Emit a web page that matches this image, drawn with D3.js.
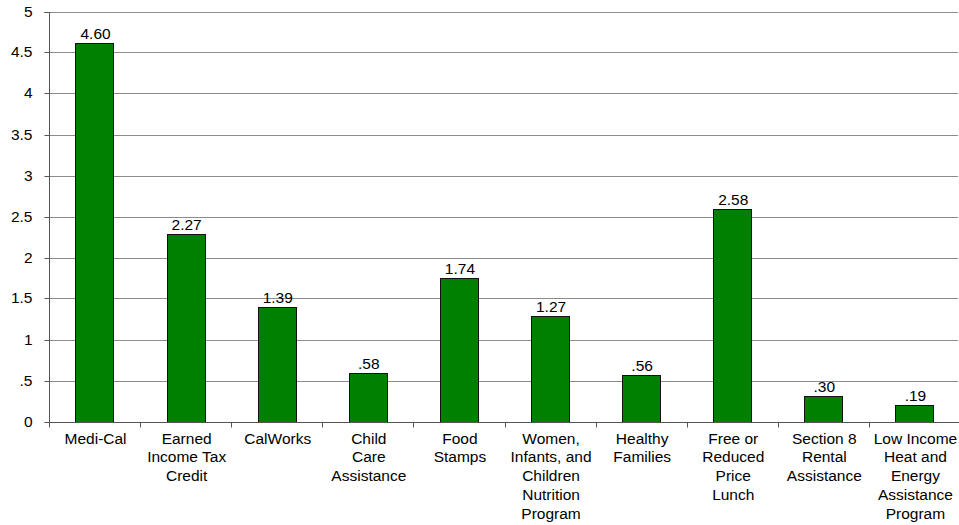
<!DOCTYPE html>
<html><head><meta charset="utf-8">
<script src="https://cdn.jsdelivr.net/npm/d3@7"></script>
<style>body{margin:0;background:#fff}svg{display:block}text{font-family:"Liberation Sans",Arial,sans-serif;fill:#000}</style>
</head><body>
<svg id="c" width="959" height="525"></svg>
<script>
const categories = ["Medi-Cal","Earned Income Tax Credit","CalWorks","Child Care Assistance","Food Stamps","Women, Infants, and Children Nutrition Program","Healthy Families","Free or Reduced Price Lunch","Section 8 Rental Assistance","Low Income Heat and Energy Assistance Program"];
const categoryLines = [["Medi-Cal"],["Earned","Income Tax","Credit"],["CalWorks"],["Child","Care","Assistance"],["Food","Stamps"],["Women,","Infants, and","Children","Nutrition","Program"],["Healthy","Families"],["Free or","Reduced","Price","Lunch"],["Section 8","Rental","Assistance"],["Low Income","Heat and","Energy","Assistance","Program"]];
const values = [4.60,2.27,1.39,0.58,1.74,1.27,0.56,2.58,0.30,0.19];
const yTicks = [0,0.5,1,1.5,2,2.5,3,3.5,4,4.5,5];
const yTickLabels = ["0",".5","1","1.5","2","2.5","3","3.5","4","4.5","5"];

const FS = 15.5;
const svg = d3.select("#c");
const pL = 49, pR = 960, pT = 11.5, pB = 421.5;
const x = d3.scaleBand().domain(categories).range([pL, pR]).paddingInner(0.58).paddingOuter(0.29);
const y = d3.scaleLinear().domain([0,5]).range([pB, pT]);

// gridlines
svg.append("g").selectAll("line").data(yTicks.slice(1)).join("line")
  .attr("x1", pL).attr("x2", 958).attr("y1", d=>Math.round(y(d))+0.5).attr("y2", d=>Math.round(y(d))+0.5)
  .attr("stroke", "#8c8c8c").attr("stroke-width", 1);

// bars
svg.append("g").selectAll("rect").data(values).join("rect")
  .attr("x", (d,i)=>Math.round(x(categories[i]))+0.5).attr("width", Math.round(x.bandwidth()))
  .attr("y", d=>Math.round(y(d))-0.5).attr("height", d=>Math.round(y(0))-Math.round(y(d))+1)
  .attr("fill", "#008000").attr("stroke", "#111").attr("stroke-width", 1);

// value labels
const fmt = v => d3.format(".2f")(v).replace(/^0\./, ".");
svg.append("g").selectAll("text").data(values).join("text")
  .attr("x", (d,i)=>x(categories[i]) + x.bandwidth()/2 + 1)
  .attr("y", d=>y(d) - 5)
  .attr("text-anchor", "middle").attr("font-size", FS)
  .text(d=>fmt(d));

// y axis
const yAxis = d3.axisLeft(y).tickValues(yTicks).tickFormat((d,i)=>yTickLabels[i]).tickSize(5).tickPadding(12);
const gy = svg.append("g").attr("transform", `translate(${pL+0.5},0)`).call(yAxis);
gy.select(".domain").attr("stroke", "#555").attr("d", `M-5,${Math.round(pT)+0.5}H0V${Math.round(pB)+0.5}`);
gy.selectAll(".tick").attr("transform", d=>`translate(0,${Math.round(y(d))+0.5})`);
gy.selectAll(".tick line").attr("stroke", "#555");
gy.selectAll(".tick text").attr("font-size", FS).attr("font-family", "Liberation Sans, Arial, sans-serif").attr("fill", "#000");

// x axis
const xAxis = d3.axisBottom(x).tickSize(0).tickFormat("");
const gx = svg.append("g").attr("transform", `translate(0,${Math.round(pB)+0.5})`).call(xAxis);
gx.select(".domain").attr("stroke", "#555").attr("d", `M${pL},0H${pR}`);
const step = x.step();
const bounds = d3.range(0, categories.length+1).map(i => pL + i*step);
gx.selectAll("line.bt").data(bounds).join("line").attr("class","bt")
  .attr("x1", d=>Math.round(d)+0.5).attr("x2", d=>Math.round(d)+0.5).attr("y1", 0).attr("y2", 5)
  .attr("stroke", "#555");

// category labels
const lab = svg.append("g");
categories.forEach((c,i)=>{
  const cx = x(c) + x.bandwidth()/2 + 1;
  const t = lab.append("text").attr("text-anchor","middle").attr("font-size",FS);
  categoryLines[i].forEach((ln,j)=>{
    t.append("tspan").attr("x", cx).attr("y", 443.5 + j*18.8).text(ln);
  });
});
</script>
</body></html>
